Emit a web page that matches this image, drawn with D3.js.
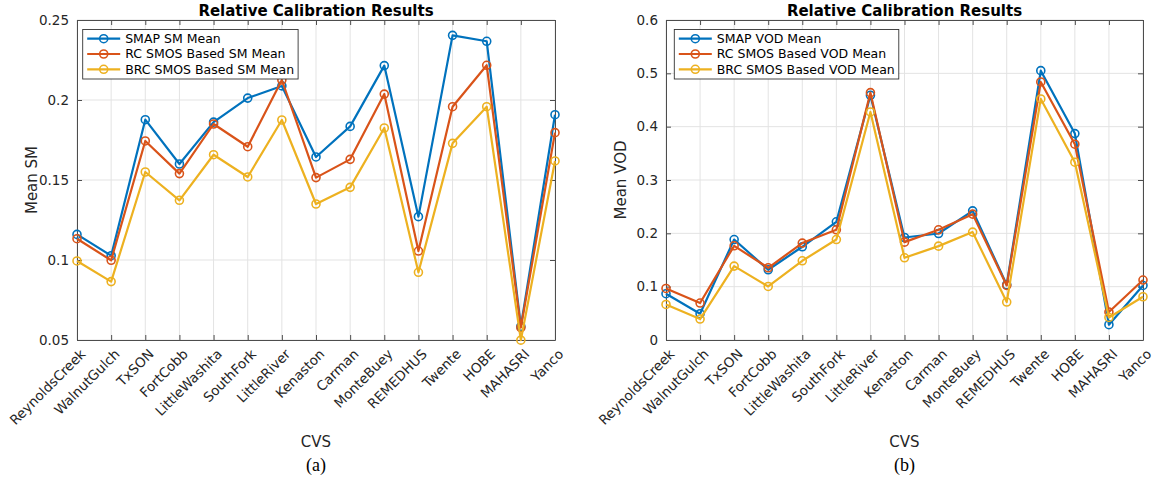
<!DOCTYPE html>
<html>
<head>
<meta charset="utf-8">
<script src="https://cdn.jsdelivr.net/npm/d3@7"></script>
<style>
  html, body { margin: 0; padding: 0; background: #fff; }
  svg { display: block; font-family: "DejaVu Sans", sans-serif; }
</style>
</head>
<body>
<svg id="chart" width="1155" height="480"></svg>
<script>
// Calibration/validation sites (shared by both panels)
const stations = ["ReynoldsCreek", "WalnutGulch", "TxSON", "FortCobb", "LittleWashita",
  "SouthFork", "LittleRiver", "Kenaston", "Carman", "MonteBuey", "REMEDHUS",
  "Twente", "HOBE", "MAHASRI", "Yanco"];

// (a) soil moisture means
const smSMAP = [0.1160, 0.1027, 0.1877, 0.1600, 0.1862, 0.2012, 0.2088, 0.1644, 0.1835,
  0.2215, 0.1271, 0.2404, 0.2367, 0.0585, 0.1908];
const smRC = [0.1133, 0.0998, 0.1744, 0.1540, 0.1850, 0.1708, 0.2125, 0.1515, 0.1629,
  0.2037, 0.1056, 0.1958, 0.2217, 0.0577, 0.1796];
const smBRC = [0.0994, 0.0865, 0.1550, 0.1373, 0.1658, 0.1519, 0.1875, 0.1350, 0.1454,
  0.1825, 0.0923, 0.1729, 0.1958, 0.0499, 0.1619];

// (b) vegetation optical depth means
const vodSMAP = [0.0868, 0.0493, 0.1884, 0.1317, 0.1748, 0.2216, 0.4589, 0.1922, 0.1997,
  0.2422, 0.1036, 0.5050, 0.3870, 0.0287, 0.1023];
const vodRC = [0.0967, 0.0693, 0.1766, 0.1354, 0.1817, 0.2066, 0.4638, 0.1835, 0.2066,
  0.2360, 0.1023, 0.4838, 0.3671, 0.0524, 0.1124];
const vodBRC = [0.0667, 0.0393, 0.1386, 0.1004, 0.1485, 0.1884, 0.4276, 0.1541, 0.1760,
  0.2023, 0.0712, 0.4520, 0.3334, 0.0423, 0.0811];

// Axis ticks
const smTicks = [0.05, 0.1, 0.15, 0.2, 0.25];
const smTickLabels = ["0.05", "0.1", "0.15", "0.2", "0.25"];
const vodTicks = [0, 0.1, 0.2, 0.3, 0.4, 0.5, 0.6];
const vodTickLabels = ["0", "0.1", "0.2", "0.3", "0.4", "0.5", "0.6"];

// Series names
const smNames = ["SMAP SM Mean", "RC SMOS Based SM Mean", "BRC SMOS Based SM Mean"];
const vodNames = ["SMAP VOD Mean", "RC SMOS Based VOD Mean", "BRC SMOS Based VOD Mean"];
const seriesColors = ["#0072BD", "#D95319", "#EDB120"];

const svg = d3.select("#chart");

function drawPanel(opts) {
  const { left, right, top, bottom, domain, ticks, tickLabels, series, names,
          yLabel, caption, legendInset } = opts;
  const g = svg.append("g");

  const x = d3.scalePoint().domain(stations).range([left, right]).padding(0);
  const y = d3.scaleLinear().domain(domain).range([bottom, top]);

  // grid
  g.append("g").selectAll("line.vg").data(stations).join("line")
    .attr("x1", d => x(d)).attr("x2", d => x(d))
    .attr("y1", top).attr("y2", bottom)
    .attr("stroke", "#e3e3e3").attr("stroke-width", 1);
  g.append("g").selectAll("line.hg").data(ticks).join("line")
    .attr("x1", left).attr("x2", right)
    .attr("y1", d => y(d)).attr("y2", d => y(d))
    .attr("stroke", "#e3e3e3").attr("stroke-width", 1);

  // axes (ticks pointing inward, box on)
  const axisColor = "#4d4d4d";
  const yAxis = d3.axisLeft(y).tickValues(ticks).tickSizeInner(-5).tickSizeOuter(0)
    .tickPadding(8).tickFormat((d, i) => tickLabels[i]);
  const yA = g.append("g").attr("transform", `translate(${left},0)`).call(yAxis);
  const yR = g.append("g").attr("transform", `translate(${right},0)`)
    .call(d3.axisRight(y).tickValues(ticks).tickSizeInner(-5).tickSizeOuter(0).tickFormat(""));
  const xAxis = d3.axisBottom(x).tickSizeInner(-5).tickSizeOuter(0).tickFormat("");
  const xA = g.append("g").attr("transform", `translate(0,${bottom})`).call(xAxis);
  const xT = g.append("g").attr("transform", `translate(0,${top})`)
    .call(d3.axisTop(x).tickSizeInner(-5).tickSizeOuter(0).tickFormat(""));
  [yA, yR, xA, xT].forEach(a => {
    a.select(".domain").attr("stroke", axisColor).attr("stroke-width", 1);
    a.selectAll(".tick line").attr("stroke", axisColor);
  });
  yA.selectAll(".tick text").attr("font-size", 13.5).attr("fill", "#262626")
    .attr("font-family", "DejaVu Sans");

  // rotated category labels
  g.append("g").selectAll("text.cat").data(stations).join("text")
    .attr("transform", d => `translate(${x(d) + 2.5},${bottom + 8}) rotate(-45)`)
    .attr("text-anchor", "end").attr("dy", "0.72em")
    .attr("font-size", 13.5).attr("fill", "#262626")
    .text(d => d);

  // series
  const line = d3.line().x((d, i) => x(stations[i])).y(d => y(d));
  series.forEach((vals, k) => {
    const sg = g.append("g");
    sg.append("path").datum(vals).attr("d", line)
      .attr("fill", "none").attr("stroke", seriesColors[k]).attr("stroke-width", 2.2)
      .attr("stroke-linejoin", "round");
    sg.selectAll("circle").data(vals).join("circle")
      .attr("cx", (d, i) => x(stations[i])).attr("cy", d => y(d)).attr("r", 4)
      .attr("fill", "none").attr("stroke", seriesColors[k]).attr("stroke-width", 1.6);
  });

  // title
  g.append("text").attr("x", (left + right) / 2).attr("y", 16)
    .attr("text-anchor", "middle").attr("font-weight", "bold").attr("font-size", 15)
    .attr("fill", "#000").text("Relative Calibration Results");

  // axis titles
  g.append("text").attr("transform", `translate(${left - 40},${(top + bottom) / 2}) rotate(-90)`)
    .attr("text-anchor", "middle").attr("font-size", 15).attr("fill", "#262626").text(yLabel);
  g.append("text").attr("x", (left + right) / 2).attr("y", 447)
    .attr("text-anchor", "middle").attr("font-size", 15).attr("fill", "#262626").text("CVS");
  g.append("text").attr("x", (left + right) / 2).attr("y", 471)
    .attr("text-anchor", "middle").attr("font-size", 18)
    .attr("font-family", "Liberation Serif, serif").attr("fill", "#000").text(caption);

  // legend
  const lg = g.append("g");
  const bx = left + legendInset, by = top + 9.5;
  const rows = [38.7, 54, 69.3];
  const box = lg.append("rect").attr("x", bx).attr("y", by).attr("height", 49.5)
    .attr("fill", "#fff").attr("stroke", "#333").attr("stroke-width", 0.9);
  let maxW = 0;
  names.forEach((n, k) => {
    lg.append("line").attr("x1", bx + 4.5).attr("x2", bx + 37.5)
      .attr("y1", rows[k]).attr("y2", rows[k])
      .attr("stroke", seriesColors[k]).attr("stroke-width", 2.2);
    lg.append("circle").attr("cx", bx + 21).attr("cy", rows[k]).attr("r", 4)
      .attr("fill", "none").attr("stroke", seriesColors[k]).attr("stroke-width", 1.6);
    const t = lg.append("text").attr("x", bx + 42.5).attr("y", rows[k]).attr("dy", "0.35em")
      .attr("font-size", 12.5).attr("fill", "#000").text(n);
    maxW = Math.max(maxW, t.node().getComputedTextLength());
  });
  box.attr("width", 42.5 + maxW + 4);
}

drawPanel({
  left: 77, right: 555, top: 20, bottom: 340,
  domain: [0.05, 0.25], ticks: smTicks, tickLabels: smTickLabels,
  series: [smSMAP, smRC, smBRC], names: smNames,
  yLabel: "Mean SM", caption: "(a)", legendInset: 5.7
});

drawPanel({
  left: 666, right: 1143, top: 20, bottom: 340,
  domain: [0, 0.6], ticks: vodTicks, tickLabels: vodTickLabels,
  series: [vodSMAP, vodRC, vodBRC], names: vodNames,
  yLabel: "Mean VOD", caption: "(b)", legendInset: 8.3
});
</script>
</body>
</html>
